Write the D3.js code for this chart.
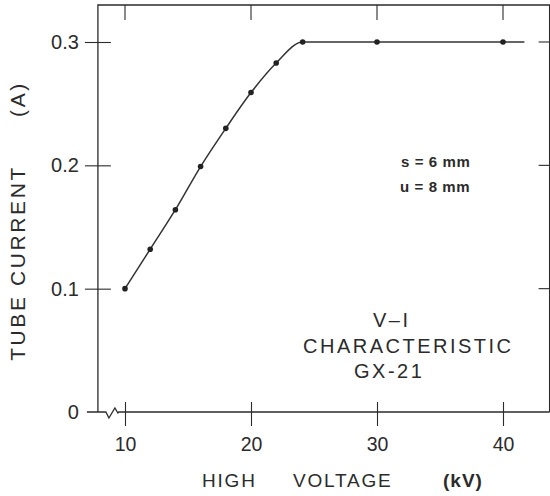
<!DOCTYPE html>
<html>
<head>
<meta charset="utf-8">
<script src="https://cdn.jsdelivr.net/npm/d3@7/dist/d3.min.js"></script>
<style>
  html, body { margin: 0; padding: 0; background: #fff; }
  svg { display: block; font-family: "Liberation Sans", Arial, Helvetica, sans-serif; }
</style>
</head>
<body>
<svg id="chart" width="550" height="496"></svg>
<script>
// ---- data ----
const xTicks = [10, 20, 30, 40];
const xTickLabels = ["10", "20", "30", "40"];
const yTicks = [0, 0.1, 0.2, 0.3];
const yTickLabels = ["0", "0.1", "0.2", "0.3"];
const voltageKV = [10, 12, 14, 16, 18, 20, 22, 24.1, 30, 40];
const currentA = [0.100, 0.132, 0.164, 0.199, 0.230, 0.259, 0.283, 0.300, 0.300, 0.300];
const lineEndKV = 41.7;
const xDomain = [7.85, 43.7];
const yDomain = [0, 0.33];

// ---- layout ----
const svg = d3.select("#chart");
const ink = "#2b2b2b";
const x = d3.scaleLinear().domain([10, 40]).range([125, 503]);
const y = d3.scaleLinear().domain([0, 0.3]).range([412, 42]);

const pLeft = x(xDomain[0]), pRight = x(xDomain[1]);
const pTop = y(yDomain[1]), pBottom = y(yDomain[0]);

// frame: left, top, right
svg.append("path")
  .attr("d", `M${pLeft},${pBottom}V${pTop}H${pRight}V${pBottom}`)
  .attr("fill", "none").attr("stroke", ink).attr("stroke-width", 1.3);

// bottom line with axis break
const bx0 = pLeft - 11;
svg.append("path")
  .attr("d", `M${bx0},${pBottom}H${pLeft + 8}L${pLeft + 11},${pBottom + 6}L${pLeft + 17},${pBottom - 4}L${pLeft + 20},${pBottom + 1}L${pLeft + 21},${pBottom}H${pRight}`)
  .attr("fill", "none").attr("stroke", ink).attr("stroke-width", 1.3);

// bottom axis
const xAxis = svg.append("g").attr("transform", `translate(0,${pBottom})`)
  .call(d3.axisBottom(x).tickValues(xTicks).tickFormat((d, i) => xTickLabels[i])
    .tickSizeInner(14).tickSizeOuter(0).tickPadding(11));
xAxis.select(".domain").remove();
xAxis.attr("font-family", null);
xAxis.selectAll(".tick line").attr("y1", -10).attr("y2", 14).attr("stroke", ink).attr("stroke-width", 1.1);
xAxis.selectAll(".tick text").attr("font-size", 19.5).attr("fill", ink);

// top ticks
svg.append("g").selectAll("line").data(xTicks).join("line")
  .attr("x1", d => x(d)).attr("x2", d => x(d))
  .attr("y1", pTop).attr("y2", pTop + 15)
  .attr("stroke", ink).attr("stroke-width", 1.1);

// left axis
const yAxis = svg.append("g").attr("transform", `translate(${pLeft},0)`)
  .call(d3.axisLeft(y).tickValues(yTicks).tickFormat((d, i) => yTickLabels[i])
    .tickSizeInner(13).tickSizeOuter(0).tickPadding(6));
yAxis.select(".domain").remove();
yAxis.attr("font-family", null);
yAxis.selectAll(".tick line").attr("x1", -13).attr("x2", 13).attr("stroke", ink).attr("stroke-width", 1.1);
yAxis.selectAll(".tick text").attr("font-size", 20).attr("fill", ink);
yAxis.selectAll(".tick").filter(d => d === 0).select("line").remove();

// right ticks
svg.append("g").selectAll("line").data(yTicks.filter(d => d > 0)).join("line")
  .attr("x1", pRight - 11).attr("x2", pRight)
  .attr("y1", d => y(d)).attr("y2", d => y(d))
  .attr("stroke", ink).attr("stroke-width", 1.1);

// curve
const pts = voltageKV.map((v, i) => [v, currentA[i]]);
const linePts = pts.concat([[lineEndKV, currentA[currentA.length - 1]]]);
svg.append("path")
  .attr("d", d3.line().x(d => x(d[0])).y(d => y(d[1])).curve(d3.curveMonotoneX)(linePts))
  .attr("fill", "none").attr("stroke", "#333").attr("stroke-width", 1.5);

svg.append("g").selectAll("circle").data(pts).join("circle")
  .attr("cx", d => x(d[0])).attr("cy", d => y(d[1])).attr("r", 2.8)
  .attr("fill", "#222");

// axis titles
svg.append("text")
  .attr("x", 202).attr("y", 487)
  .attr("font-size", 19).attr("letter-spacing", 1.8).attr("fill", ink)
  .text("HIGH");
svg.append("text")
  .attr("x", 293).attr("y", 487)
  .attr("font-size", 19).attr("letter-spacing", 1.8).attr("fill", ink)
  .text("VOLTAGE");
svg.append("text")
  .attr("x", 443).attr("y", 487)
  .attr("font-size", 19).attr("font-weight", "bold").attr("letter-spacing", 1).attr("fill", ink)
  .text("(kV)");

svg.append("text")
  .attr("transform", "translate(25,263) rotate(-90)")
  .attr("text-anchor", "middle")
  .attr("font-size", 21).attr("letter-spacing", 2.6).attr("fill", ink)
  .text("TUBE  CURRENT");
svg.append("text")
  .attr("transform", "translate(25,99) rotate(-90)")
  .attr("text-anchor", "middle")
  .attr("font-size", 21).attr("letter-spacing", 2.6).attr("fill", ink)
  .text("(A)");

// annotations
svg.append("text").attr("x", 401).attr("y", 167)
  .attr("font-size", 15).attr("font-weight", "bold").attr("letter-spacing", 0.6).attr("fill", ink)
  .text("s = 6  mm");
svg.append("text").attr("x", 400).attr("y", 192)
  .attr("font-size", 15).attr("font-weight", "bold").attr("letter-spacing", 0.6).attr("fill", ink)
  .text("u = 8  mm");

svg.append("text").attr("x", 373).attr("y", 327)
  .attr("font-size", 20).attr("letter-spacing", 2.5).attr("fill", ink).text("V–I");
svg.append("text").attr("x", 303).attr("y", 353)
  .attr("font-size", 20).attr("letter-spacing", 2.5).attr("fill", ink).text("CHARACTERISTIC");
svg.append("text").attr("x", 354).attr("y", 378)
  .attr("font-size", 20).attr("letter-spacing", 2.5).attr("fill", ink).text("GX-21");
</script>
</body>
</html>
